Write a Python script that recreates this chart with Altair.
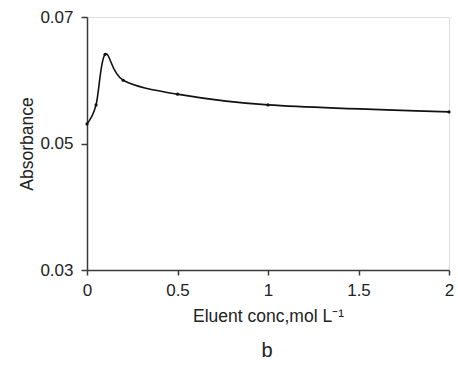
import altair as alt
import pandas as pd

conc = [0, 0.05, 0.1, 0.2, 0.5, 1, 2]
absorbance = [0.0531, 0.0561, 0.0641, 0.0600, 0.0578, 0.0561, 0.0550]
x_ticks = [0, 0.5, 1, 1.5, 2]
y_ticks = [0.03, 0.05, 0.07]

df = pd.DataFrame({"conc": conc, "abs": absorbance})

FONT = "Liberation Sans"
AXIS_COLOR = "#3a3a3a"
TXT = "#222222"

x = alt.X(
    "conc:Q",
    scale=alt.Scale(domain=[0, 2], nice=False, zero=False),
    axis=alt.Axis(
        values=x_ticks,
        title="Eluent conc,mol L\u207b\u00b9",
        grid=False,
        tickSize=5,
        labelPadding=7,
        labelFontSize=17,
        labelFont=FONT,
        labelColor=TXT,
        titleFont=FONT,
        titleFontSize=17.5,
        titleFontWeight="normal",
        titleColor=TXT,
        titleY=46,
        titleBaseline="middle",
        domainColor=AXIS_COLOR,
        tickColor=AXIS_COLOR,
        domainWidth=1.5,
        tickWidth=1.5,
        labelFlush=False,
        format="~g",
    ),
)
y = alt.Y(
    "abs:Q",
    scale=alt.Scale(domain=[0.03, 0.07], nice=False, zero=False),
    axis=alt.Axis(
        values=y_ticks,
        title="Absorbance",
        grid=False,
        tickSize=6,
        labelPadding=8,
        labelFontSize=17,
        labelFont=FONT,
        labelColor=TXT,
        titleFont=FONT,
        titleFontSize=17.5,
        titleFontWeight="normal",
        titleColor=TXT,
        titleX=-60,
        titleY=126.5,
        titleAlign="center",
        titleBaseline="middle",
        domainColor=AXIS_COLOR,
        tickColor=AXIS_COLOR,
        domainWidth=1.5,
        tickWidth=1.5,
        labelFlush=False,
        format=".2f",
    ),
)

line = alt.Chart(df).mark_line(
    interpolate="cardinal", color="#111111", strokeWidth=1.6
).encode(x=x, y=y)

pts = alt.Chart(df).mark_point(
    filled=True, color="#111111", size=10, opacity=1
).encode(x="conc:Q", y="abs:Q")

label = alt.Chart(pd.DataFrame({"t": ["b"]})).mark_text(
    font=FONT, fontSize=20, color=TXT, baseline="middle", align="center"
).encode(text="t:N", x=alt.value(180), y=alt.value(334))

chart = alt.layer(line, pts, label).properties(
    width=362,
    height=253,
    autosize=alt.AutoSizeParams(type="none"),
    padding={"left": 87, "top": 17, "right": 9, "bottom": 96},
).configure_view(stroke=None).configure(background="white")

chart.save("out.html", embed_options={"renderer": "svg", "actions": False})
